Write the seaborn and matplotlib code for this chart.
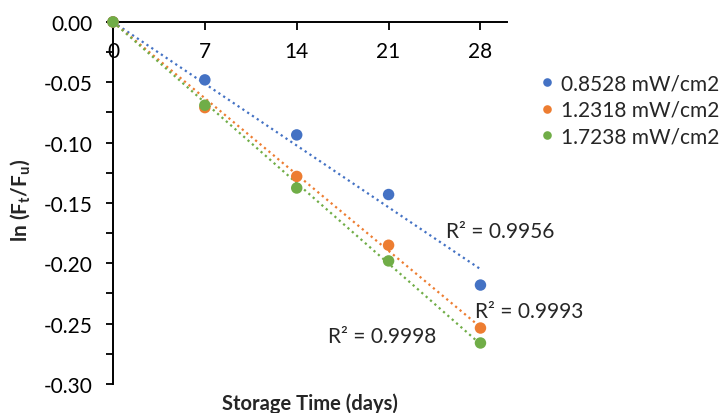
import numpy as np
import pandas as pd
import matplotlib
matplotlib.use("Agg")
import matplotlib.pyplot as plt
from matplotlib.ticker import MultipleLocator, FormatStrFormatter
import seaborn as sns

# data
days = [0, 7, 14, 21, 28]
ln_low = [0.0, -0.048, -0.0936, -0.143, -0.218]
ln_mid = [0.0, -0.071, -0.128, -0.185, -0.2536]
ln_high = [0.0, -0.069, -0.1376, -0.198, -0.266]
series_names = ["0.8528 mW/cm2", "1.2318 mW/cm2", "1.7238 mW/cm2"]
r2_labels = ["R² = 0.9956", "R² = 0.9993", "R² = 0.9998"]
colors = ["#4472C4", "#ED7D31", "#70AD47"]

df = pd.DataFrame({
    "day": days * 3,
    "ln": ln_low + ln_mid + ln_high,
    "series": [n for n in series_names for _ in days],
})

sns.set_style("ticks")
plt.rcParams["font.family"] = ["Lato", "DejaVu Sans"]
plt.rcParams["mathtext.fontset"] = "custom"
plt.rcParams["mathtext.rm"] = "Lato:bold"
plt.rcParams["mathtext.it"] = "Lato:bold"
plt.rcParams["mathtext.bf"] = "Lato:bold"
plt.rcParams["axes.unicode_minus"] = False

FS = 15

fig = plt.figure(figsize=(7.27, 4.14), dpi=100)
ax = fig.add_axes([0.1554, 0.070, 0.5416, 0.8746])

# dotted trendlines, linear fit through origin
x = np.array(days, dtype=float)
for vals, c in zip([ln_low, ln_mid, ln_high], colors):
    y = np.array(vals)
    slope = (x * y).sum() / (x * x).sum()
    ax.plot([0, 28], [0, slope * 28], color=c, linestyle=(0, (1, 1.6)),
            linewidth=1.6, zorder=2)

sns.scatterplot(data=df, x="day", y="ln", hue="series", palette=colors,
                s=68, edgecolor="none", ax=ax, zorder=3, clip_on=False)

# R² labels
ax.text(25.4, -0.173, r2_labels[0], fontsize=FS, va="center", ha="left")
ax.text(27.6, -0.2395, r2_labels[1], fontsize=FS, va="center", ha="left")
ax.text(16.4, -0.2605, r2_labels[2], fontsize=FS, va="center", ha="left")

ax.set_xlim(0, 30)
ax.set_ylim(-0.30, 0.0)
ax.set_xticks(days)
ax.yaxis.set_major_locator(MultipleLocator(0.05))
ax.yaxis.set_minor_locator(MultipleLocator(0.025))
ax.yaxis.set_major_formatter(FormatStrFormatter("%.2f"))

ax.spines["top"].set_visible(False)
ax.spines["right"].set_visible(False)
ax.spines["bottom"].set_position(("data", 0))
for s in ["left", "bottom"]:
    ax.spines[s].set_linewidth(1.4)
    ax.spines[s].set_color("black")
    ax.spines[s].set_zorder(1)

ax.tick_params(axis="x", direction="out", length=6, width=1.3, pad=8,
               labelsize=FS, colors="black")
ax.tick_params(axis="y", which="both", direction="out", length=5, width=1.3,
               pad=10, labelsize=FS, colors="black")

ax.set_xlabel("Storage Time (days)", fontsize=14.5, fontweight="bold")
ax.xaxis.set_label_coords(0.5, -0.024)
ax.set_ylabel(r"ln (F$_t$/F$_u$)", fontsize=FS, fontweight="bold")
ax.yaxis.set_label_coords(-0.205, 0.51)

handles, labels = ax.get_legend_handles_labels()
ax.legend(handles, labels, loc="upper left", bbox_to_anchor=(0.71, 0.865),
          bbox_transform=fig.transFigure, frameon=False, fontsize=FS,
          handletextpad=0.05, labelspacing=0.3, markerscale=0.75,
          handlelength=1.2)

fig.savefig("out.png", dpi=100)
